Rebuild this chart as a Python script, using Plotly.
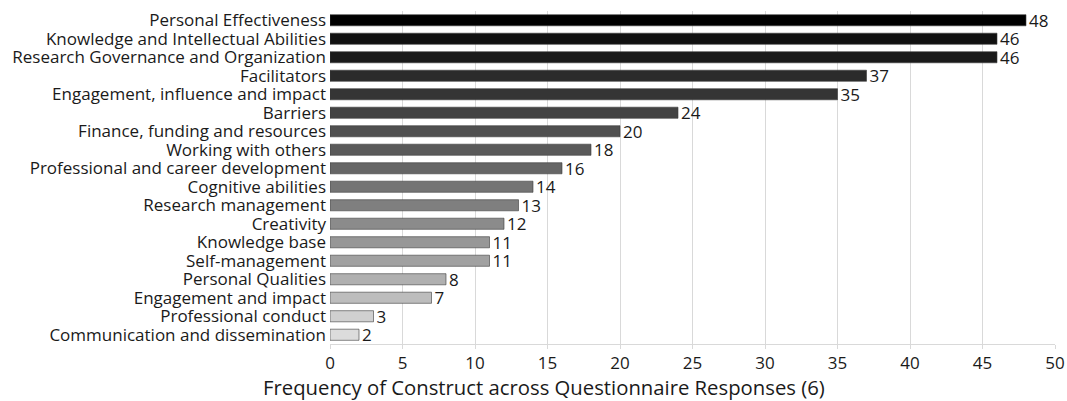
import plotly.graph_objects as go

categories = [
    "Personal Effectiveness",
    "Knowledge and Intellectual Abilities",
    "Research Governance and Organization",
    "Facilitators",
    "Engagement, influence and impact",
    "Barriers",
    "Finance, funding and resources",
    "Working with others",
    "Professional and career development",
    "Cognitive abilities",
    "Research management",
    "Creativity",
    "Knowledge base",
    "Self-management",
    "Personal Qualities",
    "Engagement and impact",
    "Professional conduct",
    "Communication and dissemination",
]
frequencies = [48, 46, 46, 37, 35, 24, 20, 18, 16, 14, 13, 12, 11, 11, 8, 7, 3, 2]
bar_colors = [
    "#000000", "#111111", "#1a1a1a", "#2b2b2b", "#353535", "#434343",
    "#505050", "#5a5a5a", "#666666", "#747474", "#7f7f7f", "#8b8b8b",
    "#979797", "#a1a1a1", "#b0b0b0", "#bdbdbd", "#d0d0d0", "#dcdcdc",
]
x_ticks = [0, 5, 10, 15, 20, 25, 30, 35, 40, 45, 50]
x_title = "Frequency of Construct across Questionnaire Responses (6)"

font_family = "Open Sans, Noto Sans, sans-serif"

fig = go.Figure(
    go.Bar(
        x=frequencies,
        y=categories,
        orientation="h",
        marker=dict(color=bar_colors, line=dict(color="#3a3a3a", width=0.6)),
        width=0.6,
        text=[str(v) for v in frequencies],
        textposition="outside",
        constraintext="none",
        cliponaxis=False,
        textfont=dict(size=17, color="#1a1a1a", family=font_family),
    )
)

fig.update_layout(
    width=1067,
    height=401,
    margin=dict(l=330, r=12, t=11, b=57, autoexpand=False),
    paper_bgcolor="white",
    plot_bgcolor="white",
    showlegend=False,
    font=dict(family=font_family, color="#1a1a1a"),
    xaxis=dict(
        range=[0, 50],
        tickmode="array",
        tickvals=x_ticks,
        showgrid=True,
        gridcolor="#d9d9d9",
        gridwidth=1,
        showline=True,
        linecolor="#d9d9d9",
        ticks="outside",
        ticklen=4,
        tickcolor="#d9d9d9",
        zeroline=False,
        automargin=False,
        tickfont=dict(size=17),
    ),
    yaxis=dict(
        tickmode="array",
        tickvals=categories,
        ticktext=categories,
        categoryorder="array",
        categoryarray=categories[::-1],
        tickfont=dict(size=17),
        ticks="",
        ticklabelstandoff=3,
        showgrid=False,
        automargin=False,
    ),
    annotations=[
        dict(
            text=x_title,
            xref="paper", yref="paper",
            x=0.295, y=-0.129,
            xanchor="center", yanchor="middle",
            showarrow=False,
            font=dict(size=20.3, color="#1a1a1a"),
        )
    ],
)

fig.write_html("out.html")
